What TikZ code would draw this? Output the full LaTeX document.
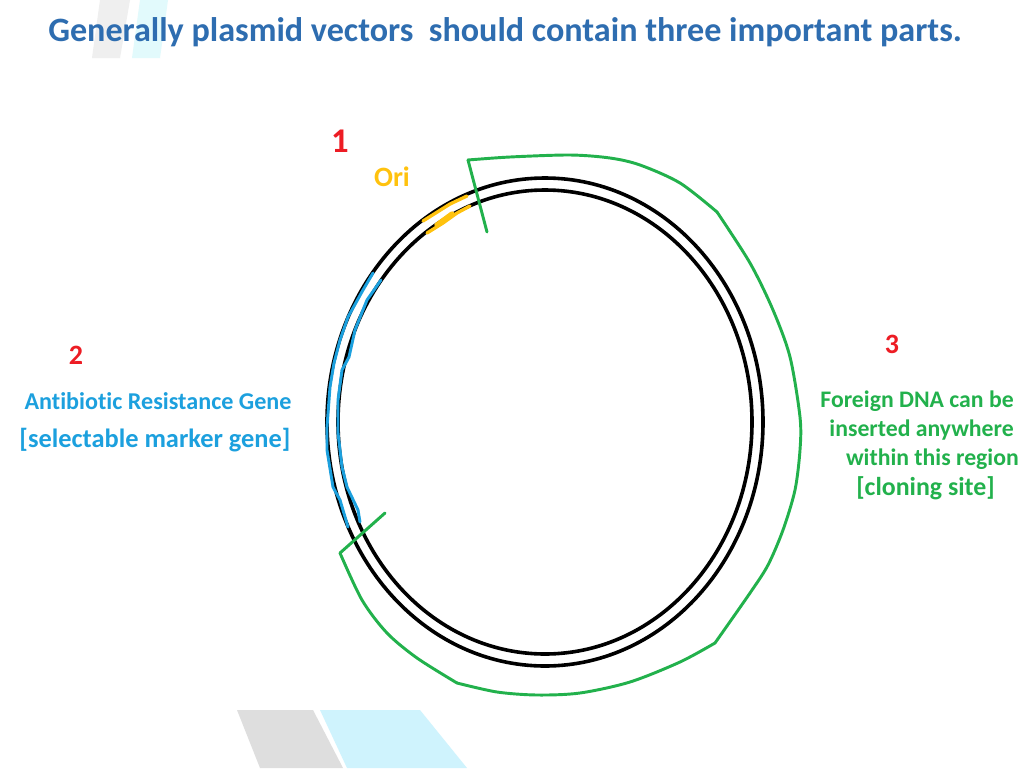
\documentclass[tikz,border=0pt]{standalone}
\usepackage{fontspec}
\setmainfont{Carlito}[Ligatures=CommonOff]
\definecolor{titleblue}{HTML}{2E6DB0}
\definecolor{numred}{HTML}{ED1C24}
\definecolor{orange}{HTML}{FFC20E}
\definecolor{markblue}{HTML}{1CA0DE}
\definecolor{sitegreen}{HTML}{22B14C}
\definecolor{greyband}{HTML}{EFEFEF}
\definecolor{cyanband}{HTML}{E2FAFC}
\definecolor{greyband2}{HTML}{DEDEDE}
\definecolor{cyanband2}{HTML}{CFF3FD}
\tikzset{
  lbl/.style={inner sep=0pt,font=\bfseries\fontsize{17.8}{17.8}\selectfont},
  numlbl/.style={inner sep=0pt,text=numred,font=\bfseries\fontsize{26}{26}\selectfont},
  ring/.style={draw=black,line width=2.7pt},
  ori/.style={draw=orange,line width=2.5pt,line cap=round,line join=round},
  marker/.style={draw=markblue,line width=2.2pt,line cap=round,line join=round},
  site/.style={draw=sitegreen,line width=2.2pt,line join=round,line cap=round}
}
\begin{document}
\begin{tikzpicture}[x=0.75pt,y=-0.75pt]
\useasboundingbox (0,0) rectangle (1024,768);
\fill[white] (0,0) rectangle (1024,768);
% background bands
\fill[greyband] (100,0) -- (130,0) -- (120,58) -- (92,58) -- cycle;
\fill[cyanband] (140,0) -- (168,0) -- (160,58) -- (132,58) -- cycle;
\fill[greyband2] (237,710) -- (313,710) -- (343,768) -- (260,768) -- cycle;
\fill[cyanband2] (320,710) -- (420,710) -- (467,768) -- (347,768) -- cycle;
% title
\node[inner sep=0pt,anchor=base west,text=titleblue,font=\bfseries\fontsize{25.6}{25.6}\selectfont] (title) at (48,41) {Generally plasmid vectors\ \ should contain three important parts.};
% plasmid rings
\draw[ring] (545,422) ellipse [x radius=218,y radius=244];
\draw[ring] (545,422) ellipse [x radius=207,y radius=232];
% ori
\draw[ori] (423,221) -- (450,204) -- (467,196);
\draw[ori] (427,233) -- (443,223) -- (457,213) -- (470,206);
\draw[ori,line width=4pt] (437,225) -- (452,214);
% selectable marker
\draw[marker] (373,273) -- (363,290) -- (348,317) -- (340,340) -- (334,363) -- (330,387) -- (327,427) -- (327,450) -- (333,487) -- (340,500) -- (348,527);
\draw[marker] (381,280) -- (367,300) -- (355,330) -- (349,357) -- (342,370) -- (338,400) -- (338,433) -- (342,467) -- (347,487) -- (358,510) -- (360,522);
% cloning site
\draw[site] (487,232) -- (468,160);
\draw[site] plot[smooth,tension=0.5] coordinates {(468,160) (510,157) (570,155) (610,158) (640,165) (680,183) (717,212)};
\draw[site] plot[smooth,tension=0.5] coordinates {(717,212) (750,263) (773,310) (790,357) (800,417) (800,450) (795,490) (783,530) (768,565) (750,593) (715,643)};
\draw[site] plot[smooth,tension=0.5] coordinates {(715,643) (680,662) (630,682) (580,693) (537,695) (497,692) (457,683)};
\draw[site] plot[smooth,tension=0.5] coordinates {(457,683) (417,658) (387,633) (362,600) (340,553)};
\draw[site] (340,553) -- (385,513);
% labels
\node[numlbl] (n1) at (340,141) {1};
\node[lbl,text=orange,font=\bfseries\fontsize{21}{21}\selectfont] (orilbl) at (392,177) {Ori};
\node[numlbl,font=\bfseries\fontsize{21}{21}\selectfont] (n2) at (76,355) {2};
\node[lbl,text=markblue,font=\bfseries\fontsize{18.1}{18.1}\selectfont] (a1) at (158,401) {Antibiotic Resistance Gene};
\node[lbl,text=markblue,font=\bfseries\fontsize{19.8}{19.8}\selectfont] (a2) at (155,440) {[selectable marker gene]};
\node[numlbl,font=\bfseries\fontsize{21}{21}\selectfont] (n3) at (892,344) {3};
\node[lbl,text=sitegreen,anchor=east] (f1) at (1014,401.5) {Foreign DNA can be};
\node[lbl,text=sitegreen,anchor=east] (f2) at (1014,430.5) {inserted anywhere};
\node[lbl,text=sitegreen,anchor=east] (f3) at (1019,459.5) {within this region};
\node[lbl,text=sitegreen,anchor=east,font=\bfseries\fontsize{19.4}{19.4}\selectfont] (f4) at (995,488.5) {[cloning site]};
\end{tikzpicture}
\end{document}
